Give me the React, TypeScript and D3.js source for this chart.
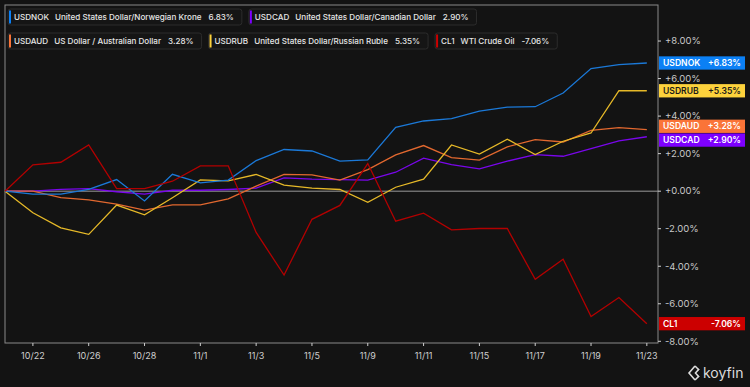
import * as d3 from 'd3';
import React, {useRef, useEffect} from 'react';

const dates = ["10/21", "10/22", "10/25", "10/26", "10/27", "10/28", "10/29", "11/1", "11/2", "11/3", "11/4", "11/5",
  "11/8", "11/9", "11/10", "11/11", "11/12", "11/15", "11/16", "11/17", "11/18", "11/19", "11/22", "11/23"];

const usdnok = [0, -0.16, -0.16, 0.09, 0.62, -0.52, 0.9, 0.44, 0.59, 1.63, 2.22, 2.14,
  1.6, 1.67, 3.4, 3.74, 3.87, 4.27, 4.48, 4.5, 5.23, 6.53, 6.74, 6.83];
const usdcad = [0, 0, 0.1, 0.14, -0.03, -0.16, 0.05, 0.05, 0.09, 0.16, 0.71, 0.64,
  0.62, 0.59, 1.01, 1.76, 1.42, 1.19, 1.6, 1.95, 1.86, 2.27, 2.68, 2.9];
const usdaud = [0, 0, -0.34, -0.46, -0.69, -1.01, -0.73, -0.73, -0.41, 0.27, 0.89, 0.87,
  0.59, 1.15, 1.93, 2.43, 1.79, 1.65, 2.36, 2.75, 2.62, 3.24, 3.39, 3.28];
const usdrub = [0, -1.15, -1.95, -2.3, -0.74, -1.26, -0.35, 0.6, 0.55, 0.89, 0.32, 0.16,
  0.09, -0.59, 0.21, 0.64, 2.46, 1.98, 2.77, 1.95, 2.66, 3.1, 5.36, 5.35];
const cl1 = [0, 1.4, 1.54, 2.46, 0.14, 0.14, 0.53, 1.35, 1.35, -2.2, -4.47, -1.5,
  -0.76, 1.47, -1.6, -1.17, -2.06, -1.99, -1.99, -4.7, -3.63, -6.68, -5.67, -7.06];

const tickDates = ["10/22", "10/26", "10/28", "11/1", "11/3", "11/5", "11/9", "11/11", "11/15", "11/17", "11/19", "11/23"];
const yTicks = [-8, -6, -4, -2, 0, 2, 4, 6, 8];

interface Series {
  ticker: string;
  name: string;
  values: number[];
  line: string;
  tag: string;
  tagText: string;
}

const series: Series[] = [
  {ticker: "USDNOK", name: "United States Dollar/Norwegian Krone", values: usdnok, line: "#1b79d8", tag: "#0b80f5", tagText: "#ffffff"},
  {ticker: "USDCAD", name: "United States Dollar/Canadian Dollar", values: usdcad, line: "#7a06ec", tag: "#7d00ff", tagText: "#ffffff"},
  {ticker: "USDAUD", name: "US Dollar / Australian Dollar", values: usdaud, line: "#e2682f", tag: "#fa7438", tagText: "#ffffff"},
  {ticker: "USDRUB", name: "United States Dollar/Russian Ruble", values: usdrub, line: "#e6b928", tag: "#fdd23c", tagText: "#1a1a1a"},
  {ticker: "CL1", name: "WTI Crude Oil", values: cl1, line: "#b30000", tag: "#cc0000", tagText: "#ffffff"},
];

const legendRows = [["USDNOK", "USDCAD"], ["USDAUD", "USDRUB", "CL1"]];

const width = 750;
const height = 387;
const font = "Inter, 'Noto Sans', sans-serif";

export default function App() {
  const ref = useRef<SVGSVGElement>(null);

  useEffect(() => {
    document.body.style.margin = "0";
    const svg = d3.select(ref.current);
    svg.selectAll("*").remove();

    const left = 5, right = 658, top = 5, bottom = 343;

    const x = d3.scaleLinear().domain([0, 23.4]).range([left, right]);
    const y = d3.scaleLinear().domain([-8.09, 9.92]).range([bottom, top]);

    svg.append("rect").attr("width", width).attr("height", height).attr("fill", "#131313");

    // frame
    svg.append("rect")
      .attr("x", left).attr("y", top)
      .attr("width", right - left).attr("height", bottom - top)
      .attr("fill", "none").attr("stroke", "#8a8a8a").attr("stroke-width", 1);

    // zero line
    svg.append("line")
      .attr("x1", left).attr("x2", right)
      .attr("y1", y(0)).attr("y2", y(0))
      .attr("stroke", "#9a9a9a").attr("stroke-width", 1);

    // y axis ticks
    const yAxis = svg.append("g");
    yTicks.forEach(t => {
      yAxis.append("line").attr("x1", right).attr("x2", right + 3)
        .attr("y1", y(t)).attr("y2", y(t)).attr("stroke", "#cfcfcf");
      yAxis.append("text")
        .attr("x", right + 7).attr("y", y(t)).attr("dy", "0.35em")
        .attr("fill", "#c8c8c8").attr("font-size", 9.5).attr("font-family", font)
        .text((t >= 0 ? "+" : "") + t.toFixed(2) + "%");
    });

    // x axis ticks
    const xAxis = svg.append("g");
    tickDates.forEach(d => {
      const i = dates.indexOf(d);
      xAxis.append("line").attr("x1", x(i)).attr("x2", x(i))
        .attr("y1", bottom).attr("y2", bottom + 3).attr("stroke", "#cfcfcf");
      xAxis.append("text")
        .attr("x", x(i)).attr("y", bottom + 13).attr("dy", "0.35em")
        .attr("text-anchor", "middle")
        .attr("fill", "#cfcfcf").attr("font-size", 9).attr("font-family", font)
        .text(d);
    });

    // lines
    const line = d3.line<number>().x((_, i) => x(i)).y(v => y(v));
    const drawOrder = ["USDCAD", "USDAUD", "USDRUB", "USDNOK", "CL1"];
    drawOrder.forEach(tk => {
      const s = series.find(s => s.ticker === tk)!;
      svg.append("path")
        .datum(s.values)
        .attr("d", line)
        .attr("fill", "none")
        .attr("stroke", s.line)
        .attr("stroke-width", 1.3);
    });

    // right side tags with simple collision avoidance
    const tagH = 13.3, gap = 0.5;
    const tags = series.map(s => ({s, cy: y(s.values[s.values.length - 1])}))
      .sort((a, b) => a.cy - b.cy);
    for (let iter = 0; iter < 20; iter++) {
      for (let i = 1; i < tags.length; i++) {
        const need = tagH + gap - (tags[i].cy - tags[i - 1].cy);
        if (need > 0) {
          tags[i - 1].cy -= need / 2;
          tags[i].cy += need / 2;
        }
      }
    }
    tags.forEach(({s, cy}) => {
      const g = svg.append("g");
      g.append("rect").attr("x", right + 1).attr("y", cy - tagH / 2)
        .attr("width", 86).attr("height", tagH).attr("fill", s.tag);
      g.append("text").attr("x", right + 5).attr("y", cy).attr("dy", "0.35em")
        .attr("fill", s.tagText).attr("font-size", 8.6).attr("font-weight", 600)
        .attr("font-family", font).text(s.ticker);
      const last = s.values[s.values.length - 1];
      g.append("text").attr("x", right + 83).attr("y", cy).attr("dy", "0.35em")
        .attr("text-anchor", "end")
        .attr("fill", s.tagText).attr("font-size", 8.6).attr("font-weight", 600)
        .attr("font-family", font).text((last > 0 ? "+" : "") + last.toFixed(2) + "%");
    });

    // legend
    const rowY = [9, 33];
    const legendFont = 8.1;
    legendRows.forEach((row, r) => {
      let bx = 8;
      row.forEach(tk => {
        const s = series.find(s => s.ticker === tk)!;
        const last = s.values[s.values.length - 1];
        const g = svg.append("g");
        const box = g.append("rect").attr("x", bx).attr("y", rowY[r])
          .attr("height", 16).attr("rx", 2.5)
          .attr("fill", "#151515").attr("stroke", "#2c2c2c").attr("stroke-width", 1);
        g.append("rect").attr("x", bx + 1).attr("y", rowY[r] + 1.5)
          .attr("width", 2).attr("height", 13).attr("fill", s.tag);
        const ty = rowY[r] + 8;
        const t1 = g.append("text").attr("x", bx + 6).attr("y", ty).attr("dy", "0.35em")
          .attr("fill", "#e6e6e6").attr("font-size", legendFont).attr("font-weight", 500)
          .attr("font-family", font).text(s.ticker);
        const w1 = (t1.node() as SVGTextElement).getComputedTextLength();
        const x2 = bx + 6 + w1 + 6;
        const t2 = g.append("text").attr("x", x2).attr("y", ty).attr("dy", "0.35em")
          .attr("fill", "#e6e6e6").attr("font-size", legendFont).attr("font-weight", 500)
          .attr("font-family", font).text(s.name);
        const w2 = (t2.node() as SVGTextElement).getComputedTextLength();
        const x3 = x2 + w2 + 7;
        const t3 = g.append("text").attr("x", x3).attr("y", ty).attr("dy", "0.35em")
          .attr("fill", "#e6e6e6").attr("font-size", legendFont).attr("font-weight", 500)
          .attr("font-family", font).text(last.toFixed(2) + "%");
        const w3 = (t3.node() as SVGTextElement).getComputedTextLength();
        const bw = x3 + w3 + 8 - bx;
        box.attr("width", bw);
        bx += bw + 7;
      });
    });

    // koyfin logo
    const lg = svg.append("g").attr("transform", "translate(689,373)");
    lg.append("path").attr("d", "M6,-7 L0,0 L6,7").attr("fill", "none")
      .attr("stroke", "#dcdcdc").attr("stroke-width", 1.6);
    lg.append("path").attr("d", "M10,-4 L6.5,0 L10,4").attr("fill", "none")
      .attr("stroke", "#dcdcdc").attr("stroke-width", 1.6);
    lg.append("path").attr("d", "M6,-7 L10,-3").attr("fill", "none")
      .attr("stroke", "#dcdcdc").attr("stroke-width", 1.6);
    lg.append("path").attr("d", "M6,7 L10,3").attr("fill", "none")
      .attr("stroke", "#dcdcdc").attr("stroke-width", 1.6);
    svg.append("text").attr("x", 703).attr("y", 373).attr("dy", "0.35em")
      .attr("fill", "#dcdcdc").attr("font-size", 14).attr("font-family", font)
      .text("koyfin");
  }, []);

  return (
    <svg ref={ref} width={width} height={height} style={{display: "block"}}/>
  );
}
